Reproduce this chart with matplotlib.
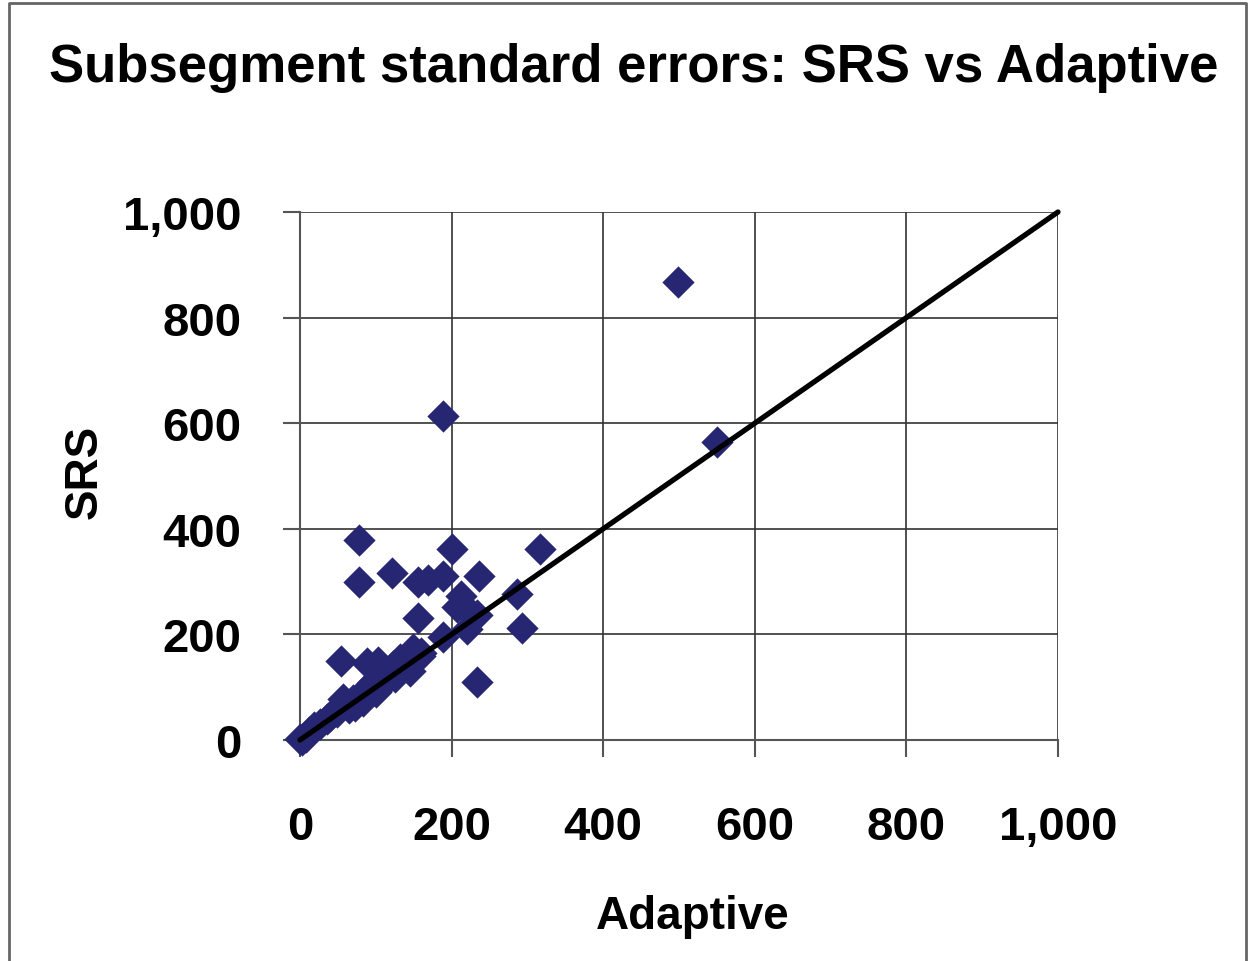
import matplotlib
matplotlib.use("Agg")
import matplotlib.pyplot as plt
from matplotlib.lines import Line2D

plt.rcParams['font.family'] = ['Liberation Sans', 'DejaVu Sans']

title = "Subsegment standard errors: SRS vs Adaptive"
xlabel = "Adaptive"
ylabel = "SRS"
ticks = [0, 200, 400, 600, 800, 1000]
tick_labels = ["0", "200", "400", "600", "800", "1,000"]

adaptive = [499, 189, 550, 78, 78, 121, 156, 169, 189, 200, 236, 317,
            212, 207, 220, 233, 220, 286, 293, 156, 189, 233, 54, 88, 103,
            149, 158, 132, 123, 110, 96, 83, 73, 57, 49, 26, 18, 0, 3, 8,
            140, 115, 90, 65, 100, 125, 145, 105, 70, 40, 35, 12, 160]
srs = [867, 614, 564, 378, 299, 316, 299, 303, 311, 362, 311, 362,
       273, 252, 248, 236, 210, 277, 212, 231, 195, 110, 150, 146, 148,
       172, 160, 153, 140, 121, 110, 74, 65, 78, 53, 30, 25, 2, 0, 5,
       145, 125, 100, 60, 90, 120, 130, 100, 75, 45, 40, 15, 165]
diag = [0, 1000]

fig = plt.figure(figsize=(12.48, 9.62), dpi=100)
# outer frame: top, left, right (no bottom)
fx0, fx1, fy1 = 9/1248, 1246/1248, 1 - 4/962
fig.lines.append(Line2D([fx0, fx0, fx1, fx1], [0, fy1, fy1, 0], transform=fig.transFigure,
                        color='#666666', linewidth=2))

ax = fig.add_axes([300/1248, 1 - 741/962, 758/1248, 528/962])
ax.set_xlim(0, 1000)
ax.set_ylim(0, 1000)
ax.set_xticks(ticks)
ax.set_yticks(ticks)
ax.set_xticklabels(tick_labels)
ax.set_yticklabels(tick_labels)
ax.grid(True, color='#333333', linewidth=1.2)
ax.set_axisbelow(True)
for s in ['top', 'right']:
    ax.spines[s].set_visible(False)
for s in ['left', 'bottom']:
    ax.spines[s].set_color('#555555')
    ax.spines[s].set_linewidth(1.5)
ax.tick_params(axis='both', length=12, width=1.5, color='#555555', labelsize=34)
ax.tick_params(axis='y', pad=30)
ax.tick_params(axis='x', pad=35)
for lab in ax.get_xticklabels() + ax.get_yticklabels():
    lab.set_fontweight('bold')

ax.scatter(adaptive, srs, marker='D', s=270, color='#262673', zorder=3, clip_on=False, linewidths=0)
ax.plot(diag, diag, color='black', linewidth=3.8, zorder=4, clip_on=False, solid_capstyle='round')

fig.text(0.508, 1 - 68/962, title, ha='center', va='center', fontsize=38, fontweight='bold')
fig.text(693/1248, 1 - 917/962, xlabel, ha='center', va='center', fontsize=33, fontweight='bold')
fig.text(85/1248, 1 - 472/962, ylabel, ha='center', va='center', fontsize=33, fontweight='bold', rotation=90)

fig.savefig("out.png", dpi=100)
